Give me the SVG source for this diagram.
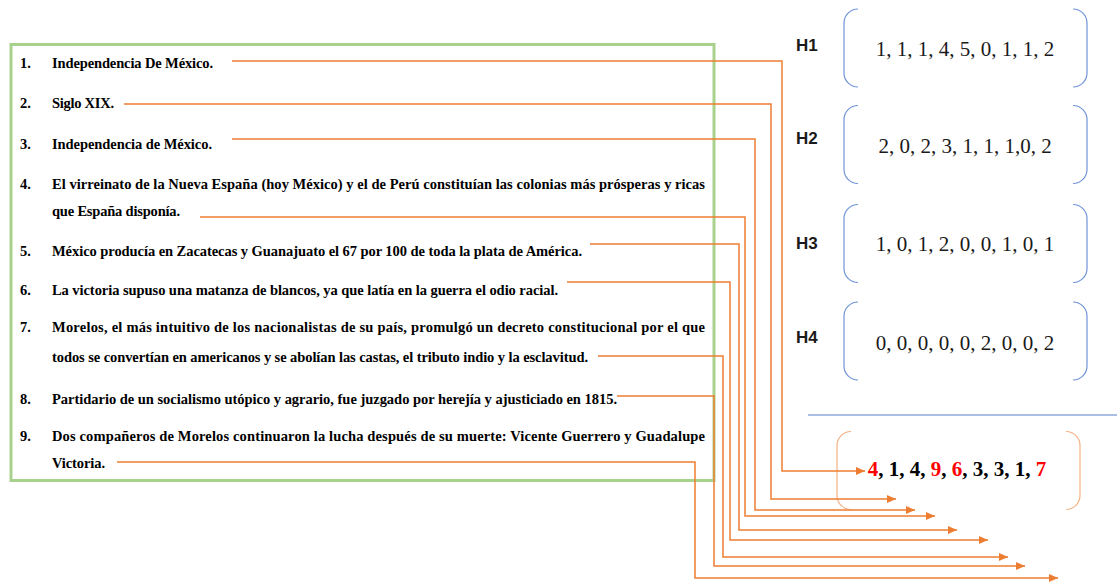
<svg xmlns="http://www.w3.org/2000/svg" width="1117" height="582" viewBox="0 0 1117 582">
<style>
.t{font-family:"Liberation Serif","Times New Roman",serif;font-weight:bold;font-size:14.5px;fill:#000}
.hl{font-family:"Liberation Sans",Arial,sans-serif;font-weight:bold;font-size:17px;fill:#1a1a1a}
.hv{font-family:"Liberation Serif","Times New Roman",serif;font-size:21px;fill:#1a1a1a;text-anchor:middle}
.rv{font-family:"Liberation Serif","Times New Roman",serif;font-weight:bold;font-size:21px;fill:#000;text-anchor:middle}
.red{fill:#ff0000}
.con{fill:none;stroke:#ed7d31;stroke-width:1.5;marker-end:url(#ah)}
.bb{fill:none;stroke:#6f93d8;stroke-width:1.2}
.ob{fill:none;stroke:#f4b183;stroke-width:1.2}
</style>
<defs>
<marker id="ah" markerUnits="userSpaceOnUse" markerWidth="10" markerHeight="8" refX="9" refY="4" orient="auto">
<path d="M0,0 L9,4 L0,8 z" fill="#ed7d31"/>
</marker>
<path id="brk" d="M14,0 A14,14 0 0 0 0,14 V64 A14,14 0 0 0 14,78 M229,0 A14,14 0 0 1 243,14 V64 A14,14 0 0 1 229,78"/>
</defs>
<rect width="1117" height="582" fill="#fff"/>

<g id="list-box">
<rect x="11" y="44.5" width="703" height="436" fill="none" stroke="#a9d18e" stroke-width="3"/>
</g>

<g id="item1"><text class="t" x="20" y="68">1.</text><text class="t" x="52" y="68" textLength="161">Independencia De México.</text></g>
<g id="item2"><text class="t" x="20" y="108">2.</text><text class="t" x="52" y="108" textLength="62">Siglo XIX.</text></g>
<g id="item3"><text class="t" x="20" y="149">3.</text><text class="t" x="52" y="149" textLength="160">Independencia de México.</text></g>
<g id="item4"><text class="t" x="20" y="189">4.</text><text class="t" x="52" y="189" textLength="653">El virreinato de la Nueva España (hoy México) y el de Perú constituían las colonias más prósperas y ricas</text><text class="t" x="52" y="216" textLength="128">que España disponía.</text></g>
<g id="item5"><text class="t" x="20" y="256">5.</text><text class="t" x="52" y="256" textLength="530">México producía en Zacatecas y Guanajuato el 67 por 100 de toda la plata de América.</text></g>
<g id="item6"><text class="t" x="20" y="295">6.</text><text class="t" x="52" y="295" textLength="506">La victoria supuso una matanza de blancos, ya que latía en la guerra el odio racial.</text></g>
<g id="item7"><text class="t" x="20" y="332">7.</text><text class="t" x="52" y="332" textLength="653">Morelos, el más intuitivo de los nacionalistas de su país, promulgó un decreto constitucional por el que</text><text class="t" x="52" y="362" textLength="536">todos se convertían en americanos y se abolían las castas, el tributo indio y la esclavitud.</text></g>
<g id="item8"><text class="t" x="20" y="404">8.</text><text class="t" x="52" y="404" textLength="565">Partidario de un socialismo utópico y agrario, fue juzgado por herejía y ajusticiado en 1815.</text></g>
<g id="item9"><text class="t" x="20" y="441">9.</text><text class="t" x="52" y="441" textLength="653">Dos compañeros de Morelos continuaron la lucha después de su muerte: Vicente Guerrero y Guadalupe</text><text class="t" x="52" y="468" textLength="53">Victoria.</text></g>

<g id="H1"><text class="hl" x="796" y="51">H1</text><use href="#brk" x="844" y="9" class="bb"/><text class="hv" x="965" y="56">1, 1, 1, 4, 5, 0, 1, 1, 2</text></g>
<g id="H2"><text class="hl" x="796" y="144">H2</text><use href="#brk" x="844" y="105.5" class="bb"/><text class="hv" x="965" y="153">2, 0, 2, 3, 1, 1, 1,0, 2</text></g>
<g id="H3"><text class="hl" x="796" y="249">H3</text><use href="#brk" x="844" y="204.5" class="bb"/><text class="hv" x="965" y="251">1, 0, 1, 2, 0, 0, 1, 0, 1</text></g>
<g id="H4"><text class="hl" x="796" y="343">H4</text><use href="#brk" x="844" y="302" class="bb"/><text class="hv" x="965" y="350">0, 0, 0, 0, 0, 2, 0, 0, 2</text></g>

<g id="separator"><line x1="808" y1="415" x2="1117" y2="415" stroke="#8faadc" stroke-width="1.5"/></g>

<g id="result"><use href="#brk" x="837" y="431.5" class="ob"/><text class="rv" x="957" y="476"><tspan class="red">4</tspan>, 1, 4, <tspan class="red">9</tspan>, <tspan class="red">6</tspan>, 3, 3, 1, <tspan class="red">7</tspan></text></g>

<g id="connectors">
<path class="con" d="M232,61 H782 V471 H865"/>
<path class="con" d="M124,104 H771 V499 H896"/>
<path class="con" d="M232,139 H755 V510 H915"/>
<path class="con" d="M200,217 H745 V516 H935"/>
<path class="con" d="M590,244 H739 V530 H957"/>
<path class="con" d="M567,282 H730 V540 H988"/>
<path class="con" d="M598,356 H723 V557 H1008"/>
<path class="con" d="M617,396 H714 V566 H1025"/>
<path class="con" d="M117,462 H695 V578 H1058"/>
</g>
</svg>
